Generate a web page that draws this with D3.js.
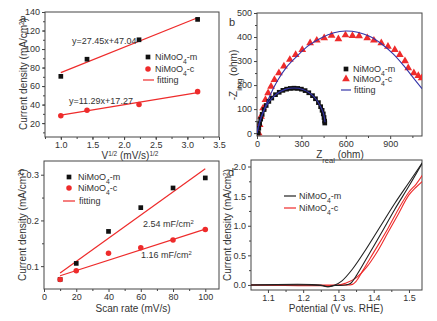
<!DOCTYPE html>
<html>
<head>
<meta charset="utf-8">
<script src="https://cdn.jsdelivr.net/npm/d3@7"></script>
<style>
  body { margin: 0; background: #fff; }
  text { font-family: "Liberation Sans", Arial, sans-serif; fill: #333; }
</style>
</head>
<body>
<div id="chart"></div>
<script>
// ---- panel a: current density vs sqrt(scan rate)
var sqrtV = [1.0, 1.414, 2.236, 3.162];
var jM_a = [70.5, 89, 110, 132];
var jC_a = [28, 34, 40, 54];
var fitA_m = [27.45, 47.04];   // slope, intercept
var fitA_c = [11.29, 17.27];

// ---- panel b: Nyquist plot [Zreal, -Zimg]
var eisM = [[8,0],[12,20],[18,40],[25,58],[35,78],[48,98],[62,115],[80,132],[100,146],[125,160],
            [150,170],[175,178],[200,183],[225,186],[250,187],[275,186],[300,183],[325,177],[350,168],
            [375,156],[395,143],[415,127],[430,110],[440,95],[448,80],[453,65],[457,50],[458,42]];
var eisM_fit = [[0,0],[15,40],[40,85],[80,130],[130,162],[190,182],[250,188],[310,182],[360,165],
                [400,140],[430,110],[450,80],[460,45]];
var eisC = [[11,0],[18,35],[27,69],[41,104],[57,139],[75,167],[95,194],[118,222],[148,250],[182,278],
            [222,306],[261,326],[306,347],[359,375],[404,386],[454,396],[504,406],[550,392],[598,408],
            [645,405],[690,404],[745,396],[790,386],[840,375],[885,361],[931,347],[965,326],[1000,300],
            [1022,271],[1060,250],[1090,239],[1112,229]];
var eisC_fit = [[0,0],[20,50],[50,100],[90,160],[140,220],[200,275],[270,320],[350,365],[430,395],
                [520,418],[600,425],[680,420],[760,403],[840,372],[920,330],[990,282],[1050,235],[1115,185]];

// ---- panel c: double layer capacitance
var scanRate = [10, 20, 40, 60, 80, 100];
var jM_c = [0.071, 0.106, 0.176, 0.228, 0.271, 0.293];
var jC_c = [0.071, 0.090, 0.128, 0.140, 0.157, 0.180];
var fitC_m = [[10, 0.085], [100, 0.313]];
var fitC_c = [[10, 0.079], [100, 0.181]];

// ---- panel d: polarization curves [V, J]
var lsvM_fwd = [[1.05,0],[1.2,0],[1.25,-0.01],[1.27,-0.03],[1.29,-0.01],[1.32,0],[1.335,0.03],[1.35,0.15],
                [1.38,0.45],[1.42,0.86],[1.46,1.28],[1.5,1.67],[1.54,2.08]];
var lsvM_bwd = [[1.54,2.08],[1.5,1.73],[1.46,1.38],[1.42,1.0],[1.38,0.62],[1.34,0.27],[1.31,0.07],
                [1.29,0.0],[1.27,-0.03],[1.25,0],[1.05,0]];
var lsvC_fwd = [[1.05,0],[1.3,0],[1.34,0.01],[1.35,0.06],[1.37,0.25],[1.4,0.55],[1.44,0.95],[1.47,1.28],
                [1.5,1.57],[1.52,1.7],[1.54,1.87]];
var lsvC_bwd = [[1.54,1.76],[1.52,1.65],[1.5,1.52],[1.47,1.2],[1.44,0.88],[1.41,0.56],[1.38,0.3],
                [1.35,0.12],[1.32,0.03],[1.3,0],[1.05,0]];

var W = 437, H = 321;
var svg = d3.select("#chart").append("svg").attr("width", W).attr("height", H);
var clipId = 0;

function panel(o) {
    var x = d3.scaleLinear().domain(o.xd).range([o.x0, o.x1]);
    var y = d3.scaleLinear().domain(o.yd).range([o.y1, o.y0]);
    var g = svg.append("g");

    // minor ticks
    g.append("g").attr("transform", "translate(0," + o.y1 + ")")
     .call(d3.axisBottom(x).tickValues(o.xm).tickSize(2).tickFormat(""))
     .call(s => s.select(".domain").remove());
    g.append("g").attr("transform", "translate(" + o.x0 + ",0)")
     .call(d3.axisLeft(y).tickValues(o.ym).tickSize(2).tickFormat(""))
     .call(s => s.select(".domain").remove());
    // major ticks
    g.append("g").attr("transform", "translate(0," + o.y1 + ")")
     .call(d3.axisBottom(x).tickValues(o.xt).tickSize(3).tickPadding(2).tickFormat(o.xf))
     .call(s => s.select(".domain").remove());
    g.append("g").attr("transform", "translate(" + o.x0 + ",0)")
     .call(d3.axisLeft(y).tickValues(o.yt).tickSize(3).tickPadding(2).tickFormat(o.yf))
     .call(s => s.select(".domain").remove());
    g.selectAll(".tick line").attr("stroke", "#444");
    g.selectAll(".tick text").attr("font-size", 9).attr("fill", "#333")
     .style("font-family", "'Liberation Sans', Arial, sans-serif");

    g.append("rect").attr("x", o.x0).attr("y", o.y0)
     .attr("width", o.x1 - o.x0).attr("height", o.y1 - o.y0)
     .attr("fill", "none").attr("stroke", "#444").attr("stroke-width", 1);

    var id = "clip" + (clipId++);
    svg.append("clipPath").attr("id", id).append("rect")
       .attr("x", o.x0).attr("y", o.y0).attr("width", o.x1 - o.x0).attr("height", o.y1 - o.y0);
    var plot = g.append("g").attr("clip-path", "url(#" + id + ")");

    g.append("text").attr("x", o.lx).attr("y", o.ly).attr("font-size", 11).text(o.letter);
    return { g: g, plot: plot, x: x, y: y };
}

// rich label helper: parts = [[text, "sup"|"sub"|null], ...]
function richText(sel, parts, size) {
    parts.forEach(function(p) {
        var t = sel.append("tspan").text(p[0]);
        if (p[1] === "sup") t.attr("font-size", size * 0.65).attr("baseline-shift", "super");
        else if (p[1] === "sub") t.attr("font-size", size * 0.75).attr("baseline-shift", "sub");
    });
}

function yLabel(g, x, y, parts) {
    var t = g.append("text").attr("transform", "translate(" + x + "," + y + ") rotate(-90)")
             .attr("text-anchor", "middle").attr("font-size", 10);
    richText(t, parts, 10);
}
function xLabel(g, x, y, parts) {
    var t = g.append("text").attr("x", x).attr("y", y).attr("text-anchor", "middle").attr("font-size", 10);
    richText(t, parts, 10);
}
function legendText(g, x, y, parts) {
    var t = g.append("text").attr("x", x).attr("y", y).attr("dy", "0.35em").attr("font-size", 9);
    richText(t, parts, 9);
}

var sq = d3.symbol().type(d3.symbolSquare).size(22);
var ci = d3.symbol().type(d3.symbolCircle).size(24);
var tri = d3.symbol().type(d3.symbolTriangle).size(26);
var RED = "#ee2b2b", BLUE = "#3434a8";
var fmt1 = d3.format(".1f");

// ================= panel a =================
var A = panel({ x0: 45, x1: 219, y0: 12, y1: 137, xd: [0.75, 3.5], yd: [5, 140],
    xt: [1, 1.5, 2, 2.5, 3, 3.5], xm: d3.range(0.75, 3.51, 0.25), xf: fmt1,
    yt: [20, 40, 60, 80, 100, 120, 140], ym: d3.range(10, 141, 10), yf: d3.format("d"),
    lx: 20, ly: 22, letter: "a" });
[[fitA_m, "m"], [fitA_c, "c"]].forEach(function(f) {
    var p = f[0];
    A.plot.append("line").attr("x1", A.x(1)).attr("y1", A.y(p[0] * 1 + p[1]))
     .attr("x2", A.x(3.162)).attr("y2", A.y(p[0] * 3.162 + p[1]))
     .attr("stroke", RED).attr("stroke-width", 1.2);
});
A.plot.selectAll(".pm").data(sqrtV).enter().append("path")
 .attr("transform", (d, i) => "translate(" + A.x(d) + "," + A.y(jM_a[i]) + ")")
 .attr("d", sq).attr("fill", "#111");
A.plot.selectAll(".pc").data(sqrtV).enter().append("path")
 .attr("transform", (d, i) => "translate(" + A.x(d) + "," + A.y(jC_a[i]) + ")")
 .attr("d", ci).attr("fill", RED);
A.g.append("text").attr("x", 72).attr("y", 44).attr("font-size", 9).text("y=27.45x+47.04");
A.g.append("text").attr("x", 69).attr("y", 104).attr("font-size", 9).text("y=11.29x+17.27");
A.g.append("path").attr("transform", "translate(148,57)").attr("d", sq).attr("fill", "#111");
legendText(A.g, 155, 57, [["NiMoO"], ["4", "sub"], ["-m"]]);
A.g.append("path").attr("transform", "translate(148,69)").attr("d", ci).attr("fill", RED);
legendText(A.g, 155, 69, [["NiMoO"], ["4", "sub"], ["-c"]]);
A.g.append("line").attr("x1", 143).attr("x2", 154).attr("y1", 80).attr("y2", 80)
 .attr("stroke", RED).attr("stroke-width", 1.2);
legendText(A.g, 157, 80, [["fitting"]]);
yLabel(A.g, 27, 74, [["Current density (mA/cm"], ["2", "sup"], [")"]]);
xLabel(A.g, 130, 159, [["V"], ["1/2", "sup"], [" (mV/s)"], ["1/2", "sup"]]);

// ================= panel b =================
var B = panel({ x0: 257, x1: 422, y0: 13, y1: 136, xd: [0, 1115], yd: [-12, 500],
    xt: [0, 300, 600, 900], xm: [150, 450, 750, 1050], xf: d3.format("d"),
    yt: [0, 100, 200, 300, 400, 500], ym: [50, 150, 250, 350, 450], yf: d3.format("d"),
    lx: 229, ly: 26, letter: "b" });
var lineB = d3.line().x(d => B.x(d[0])).y(d => B.y(d[1])).curve(d3.curveCatmullRom);
B.plot.selectAll(".cm").data(eisC).enter().append("path")
 .attr("transform", d => "translate(" + B.x(d[0]) + "," + B.y(d[1]) + ")")
 .attr("d", tri).attr("fill", RED);
B.plot.selectAll(".mm").data(eisM).enter().append("path")
 .attr("transform", d => "translate(" + B.x(d[0]) + "," + B.y(d[1]) + ")")
 .attr("d", sq).attr("fill", "#111");
B.plot.append("path").datum(eisM_fit).attr("d", lineB).attr("fill", "none")
 .attr("stroke", BLUE).attr("stroke-width", 1.1);
B.plot.append("path").datum(eisC_fit).attr("d", lineB).attr("fill", "none")
 .attr("stroke", BLUE).attr("stroke-width", 1.1);
B.g.append("path").attr("transform", "translate(346,69)").attr("d", sq).attr("fill", "#111");
legendText(B.g, 353, 69, [["NiMoO"], ["4", "sub"], ["-m"]]);
B.g.append("path").attr("transform", "translate(346,79)").attr("d", tri).attr("fill", RED);
legendText(B.g, 353, 79, [["NiMoO"], ["4", "sub"], ["-c"]]);
B.g.append("line").attr("x1", 341).attr("x2", 351).attr("y1", 90).attr("y2", 90)
 .attr("stroke", BLUE).attr("stroke-width", 1.2);
legendText(B.g, 354, 90, [["fitting"]]);
yLabel(B.g, 237, 75, [["-Z"], ["img", "sub"], [" (ohm)"]]);
xLabel(B.g, 340, 158, [["Z"], ["real", "sub"], [" (ohm)"]]);

// ================= panel c =================
var C = panel({ x0: 44, x1: 219, y0: 161, y1: 289, xd: [0, 108.5], yd: [0.05, 0.33],
    xt: [0, 20, 40, 60, 80, 100], xm: d3.range(10, 101, 20), xf: d3.format("d"),
    yt: [0.1, 0.2, 0.3], ym: [0.15, 0.25], yf: fmt1,
    lx: 19, ly: 175, letter: "c" });
[fitC_m, fitC_c].forEach(function(f) {
    C.plot.append("line").attr("x1", C.x(f[0][0])).attr("y1", C.y(f[0][1]))
     .attr("x2", C.x(f[1][0])).attr("y2", C.y(f[1][1]))
     .attr("stroke", RED).attr("stroke-width", 1.2);
});
C.plot.selectAll(".pm").data(scanRate).enter().append("path")
 .attr("transform", (d, i) => "translate(" + C.x(d) + "," + C.y(jM_c[i]) + ")")
 .attr("d", sq).attr("fill", "#111");
C.plot.selectAll(".pc").data(scanRate).enter().append("path")
 .attr("transform", (d, i) => "translate(" + C.x(d) + "," + C.y(jC_c[i]) + ")")
 .attr("d", ci).attr("fill", RED);
var capC = C.g.append("text").attr("x", 143).attr("y", 227).attr("font-size", 9);
richText(capC, [["2.54 mF/cm"], ["2", "sup"]], 9);
var capC2 = C.g.append("text").attr("x", 141).attr("y", 258).attr("font-size", 9);
richText(capC2, [["1.16 mF/cm"], ["2", "sup"]], 9);
C.g.append("path").attr("transform", "translate(69,177)").attr("d", sq).attr("fill", "#111");
legendText(C.g, 78, 177, [["NiMoO"], ["4", "sub"], ["-m"]]);
C.g.append("path").attr("transform", "translate(69,188)").attr("d", ci).attr("fill", RED);
legendText(C.g, 78, 188, [["NiMoO"], ["4", "sub"], ["-c"]]);
C.g.append("line").attr("x1", 63).attr("x2", 75).attr("y1", 201).attr("y2", 201)
 .attr("stroke", RED).attr("stroke-width", 1.2);
legendText(C.g, 79, 201, [["fitting"]]);
yLabel(C.g, 26, 225, [["Current density (mA/cm"], ["2", "sup"], [")"]]);
xLabel(C.g, 133, 312, [["Scan rate (mV/s)"]]);

// ================= panel d =================
var D = panel({ x0: 251, x1: 422, y0: 160, y1: 290, xd: [1.052, 1.537], yd: [-0.085, 2.11],
    xt: [1.1, 1.2, 1.3, 1.4, 1.5], xm: [1.15, 1.25, 1.35, 1.45], xf: fmt1,
    yt: [0, 0.5, 1.0, 1.5, 2.0], ym: [0.25, 0.75, 1.25, 1.75], yf: fmt1,
    lx: 228, ly: 176, letter: "d" });
var lineDb = d3.line().x(d => D.x(d[0])).y(d => D.y(d[1])).curve(d3.curveCatmullRom);
D.plot.append("path").datum(lsvC_fwd).attr("d", lineDb).attr("fill", "none").attr("stroke", RED).attr("stroke-width", 1.1);
D.plot.append("path").datum(lsvC_bwd).attr("d", lineDb).attr("fill", "none").attr("stroke", RED).attr("stroke-width", 1.1);
D.plot.append("path").datum(lsvM_fwd).attr("d", lineDb).attr("fill", "none").attr("stroke", "#222").attr("stroke-width", 1.1);
D.plot.append("path").datum(lsvM_bwd).attr("d", lineDb).attr("fill", "none").attr("stroke", "#222").attr("stroke-width", 1.1);
D.g.append("line").attr("x1", 284).attr("x2", 296).attr("y1", 196).attr("y2", 196)
 .attr("stroke", "#222").attr("stroke-width", 1.2);
legendText(D.g, 299, 196, [["NiMoO"], ["4", "sub"], ["-m"]]);
D.g.append("line").attr("x1", 284).attr("x2", 296).attr("y1", 208).attr("y2", 208)
 .attr("stroke", RED).attr("stroke-width", 1.2);
legendText(D.g, 299, 208, [["NiMoO"], ["4", "sub"], ["-c"]]);
yLabel(D.g, 231, 225, [["Current density (mA/cm"], ["2", "sup"], [")"]]);
xLabel(D.g, 336, 312, [["Potential (V vs. RHE)"]]);
</script>
</body>
</html>
